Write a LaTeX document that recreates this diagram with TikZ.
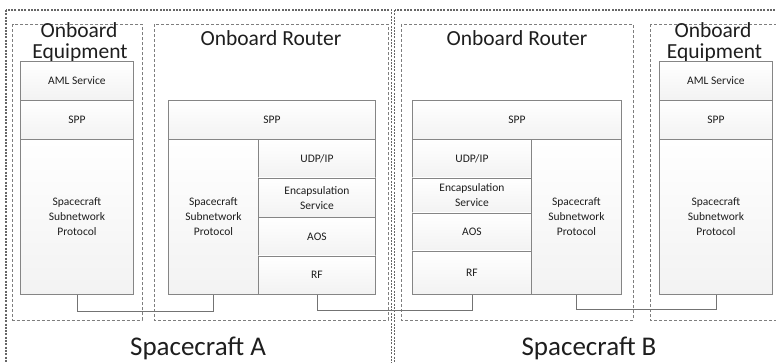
\documentclass[tikz,border=0pt]{standalone}
\usepackage{fontspec}
\setmainfont{Carlito}
\definecolor{cellline}{HTML}{858585}
\definecolor{conn}{HTML}{737373}
\definecolor{dashc}{HTML}{7E7E7E}
\definecolor{outc}{HTML}{666666}
\definecolor{txt}{HTML}{1E1E1E}
\tikzset{
  cell/.style={draw=cellline, line width=0.9pt, top color=white, bottom color=black!5,
    inner sep=0pt, align=center, text=txt, font=\fontsize{11.5}{15}\selectfont},
  conline/.style={draw=conn, line width=0.9pt},
  groupbox/.style={draw=dashc, line width=0.8pt, dash pattern=on 3pt off 2pt},
  craftbox/.style={draw=outc, line width=1.8pt, dash pattern=on 2pt off 1.3pt},
  biglabel/.style={inner sep=0pt, anchor=base, text=txt, font=\fontsize{21.5}{21}\selectfont},
  craftlabel/.style={inner sep=0pt, anchor=base, text=txt, font=\fontsize{27}{27}\selectfont}
}
\newcommand{\mkcell}[6]{\node[cell, minimum width={(#4)-(#2)}, minimum height={(#5)-(#3)}, anchor=north west] (#1) at (#2,#3) {#6};}
\begin{document}
\begin{tikzpicture}[x=1pt,y=-1pt]
\clip (0,0) rectangle (776,362);
% spacecraft boxes
\draw[craftbox] (6,10) rectangle (391.5,420);
\draw[craftbox] (394.5,10) rectangle (820,420);
% group boxes
\draw[groupbox] (12.7,24) rectangle (142,320);
\draw[groupbox] (154,24) rectangle (388,320);
\draw[groupbox] (401,24) rectangle (633,320);
\draw[groupbox] (650,24) rectangle (800,320);
% labels
\node[biglabel] (eqAl1) at (79,37.5) {Onboard};
\node[biglabel] (eqAl2) at (80,58.5) {Equipment};
\node[biglabel] (rtAl) at (271,45.5) {Onboard Router};
\node[biglabel] (rtBl) at (517,45.5) {Onboard Router};
\node[biglabel] (eqBl1) at (713,37.5) {Onboard};
\node[biglabel] (eqBl2) at (714.5,58.5) {Equipment};
\node[craftlabel] (scA) at (198,355.5) {Spacecraft A};
\node[craftlabel] (scB) at (589,355.5) {Spacecraft B};
% equipment A
\mkcell{eqAaml}{20}{61}{133}{100}{AML Service}
\mkcell{eqAspp}{20}{100}{133}{139}{SPP}
\mkcell{eqAssp}{20}{139}{133}{294}{Spacecraft\\Subnetwork\\Protocol}
% router A
\mkcell{rtAspp}{168}{100}{375}{139}{SPP}
\mkcell{rtAssp}{168}{139}{258}{294}{Spacecraft\\Subnetwork\\Protocol}
\mkcell{rtAudp}{258}{139}{375}{177.5}{UDP/IP}
\mkcell{rtAenc}{258}{177.5}{375}{217}{Encapsulation\\Service}
\mkcell{rtAaos}{258}{217}{375}{255.5}{AOS}
\mkcell{rtArf}{258}{255.5}{375}{294}{RF}
% router B
\mkcell{rtBspp}{412}{100}{621}{139}{SPP}
\mkcell{rtBudp}{412}{139}{531}{177.5}{UDP/IP}
\mkcell{rtBenc}{412}{177.5}{531}{212.5}{Encapsulation\\Service}
\mkcell{rtBaos}{412}{212.5}{531}{250.5}{AOS}
\mkcell{rtBrf}{412}{250.5}{531}{294}{RF}
\mkcell{rtBssp}{531}{139}{621}{294}{Spacecraft\\Subnetwork\\Protocol}
% equipment B
\mkcell{eqBaml}{659}{61}{772}{100}{AML Service}
\mkcell{eqBspp}{659}{100}{772}{139}{SPP}
\mkcell{eqBssp}{659}{139}{772}{294}{Spacecraft\\Subnetwork\\Protocol}
% connectors
\draw[conline] (eqAssp.south) -- ++(0,17) -| (rtAssp.south);
\draw[conline] (rtArf.south) -- ++(0,16) -| (rtBrf.south);
\draw[conline] (rtBssp.south) -- ++(0,15) -| (eqBssp.south);
\end{tikzpicture}
\end{document}
